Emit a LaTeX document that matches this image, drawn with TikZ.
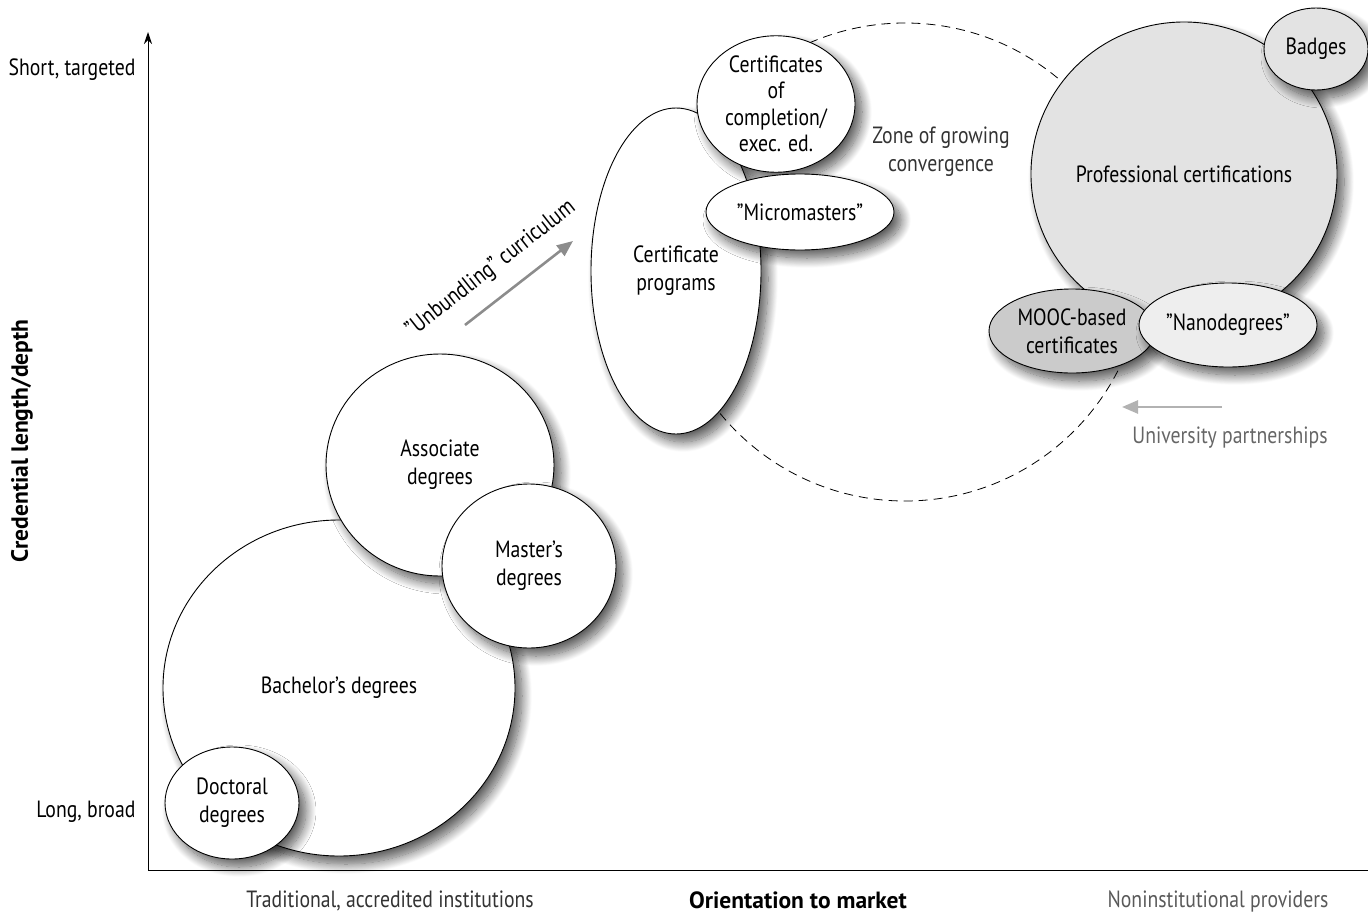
\documentclass[tikz,border=0pt]{standalone}
\usepackage{fontspec}
\setmainfont{PT Sans}[FakeStretch=0.84]
\newfontfamily\axisfont{PT Sans}
\usetikzlibrary{shapes.geometric,arrows.meta,shadows.blur}
\definecolor{profgray}{HTML}{E3E3E3}
\definecolor{moocgray}{HTML}{CBCBCB}
\definecolor{nanogray}{HTML}{EEEEEE}
\begin{document}
\begin{tikzpicture}[x=1pt,y=-1pt,font=\fontsize{23.5}{28}\selectfont]
\tikzset{bubble/.style={ellipse,draw,line width=0.9pt,fill=white,inner sep=0pt,align=center,
  blur shadow={shadow xshift=7pt,shadow yshift=-8pt,shadow blur radius=10pt,shadow blur steps=16,shadow opacity=65}}}
\tikzset{note/.style={align=center}}
\tikzset{axislabel/.style={font=\fontsize{23.5}{28}\axisfont\bfseries}}
\tikzset{grayarrow/.style={line width=2.6pt,-{Triangle[length=16pt,width=13pt]}}}
\useasboundingbox (0,0) rectangle (1368,913);
\draw[dashed,line width=0.8pt,dash pattern=on 9pt off 6pt] (905,262) circle (239pt);
% axes
\coordinate (o) at (148,870);
\coordinate (ytop) at (148,32);
\coordinate (xend) at (1368,870);
\draw[line width=1pt] (o) -- (xend);
\draw[line width=1pt,-{Stealth[length=12pt,width=8pt]}] (o) -- (ytop);
\node[anchor=east] (short) at (139,70) {Short, targeted};
\node[anchor=east] (long) at (139,812) {Long, broad};
\node[rotate=90,axislabel] (ylab) at (22,441) {Credential length/depth};
\node[text=black!80] (trad) at (390,901) {Traditional, accredited institutions};
\node[axislabel] (xlab) at (798,900) {Orientation to market};
\node[text=black!65] (nonin) at (1218,901) {Noninstitutional providers};
% traditional credentials
\node[bubble,minimum width=352pt,minimum height=336pt] (bach) at (339,688) {};
\node (bachtxt) at (339,688) {Bachelor’s degrees};
\node[bubble,minimum width=134pt,minimum height=112pt] (doct) at (232,803) {Doctoral\\degrees};
\node[bubble,minimum width=228pt,minimum height=222pt] (assoc) at (440,465) {Associate\\degrees};
\node[bubble,minimum width=174pt,minimum height=164pt] (mast) at (529,566) {Master’s\\degrees};
% certificates
\node[bubble,minimum width=170pt,minimum height=326pt] (certprog) at (676,271) {Certificate\\programs};
\node[bubble,minimum width=158pt,minimum height=136pt,font=\fontsize{23.5}{26.5}\selectfont] (compl) at (776,104) {Certificates\\of\\completion/\\exec. ed.};
\node[bubble,minimum width=188pt,minimum height=76pt] (micro) at (800,212) {”Micromasters”};
% noninstitutional
\node[bubble,fill=profgray,minimum width=302pt,minimum height=304pt] (prof) at (1184,174) {Professional certifications};
\node[bubble,fill=profgray,minimum width=104pt,minimum height=82pt] (badge) at (1316,49) {Badges};
\node[bubble,fill=moocgray,minimum width=166pt,minimum height=84pt] (mooc) at (1072,331) {MOOC-based\\certificates};
\node[bubble,fill=nanogray,minimum width=178pt,minimum height=84pt] (nano) at (1228,325) {”Nanodegrees”};
\node[note,text=black!80] (zone) at (941,152) {Zone of growing\\convergence};
% arrows
\coordinate (ubstart) at (465,325);
\coordinate (ubend) at (573,241);
\draw[grayarrow,black!45] (ubstart) -- (ubend);
\node[rotate=38] (unbund) at (491,269) {”Unbundling” curriculum};
\coordinate (upstart) at (1222,407);
\coordinate (upend) at (1122,407);
\draw[grayarrow,black!30] (upstart) -- (upend);
\node[text=black!60] (unipart) at (1230,438) {University partnerships};
\end{tikzpicture}
\end{document}
